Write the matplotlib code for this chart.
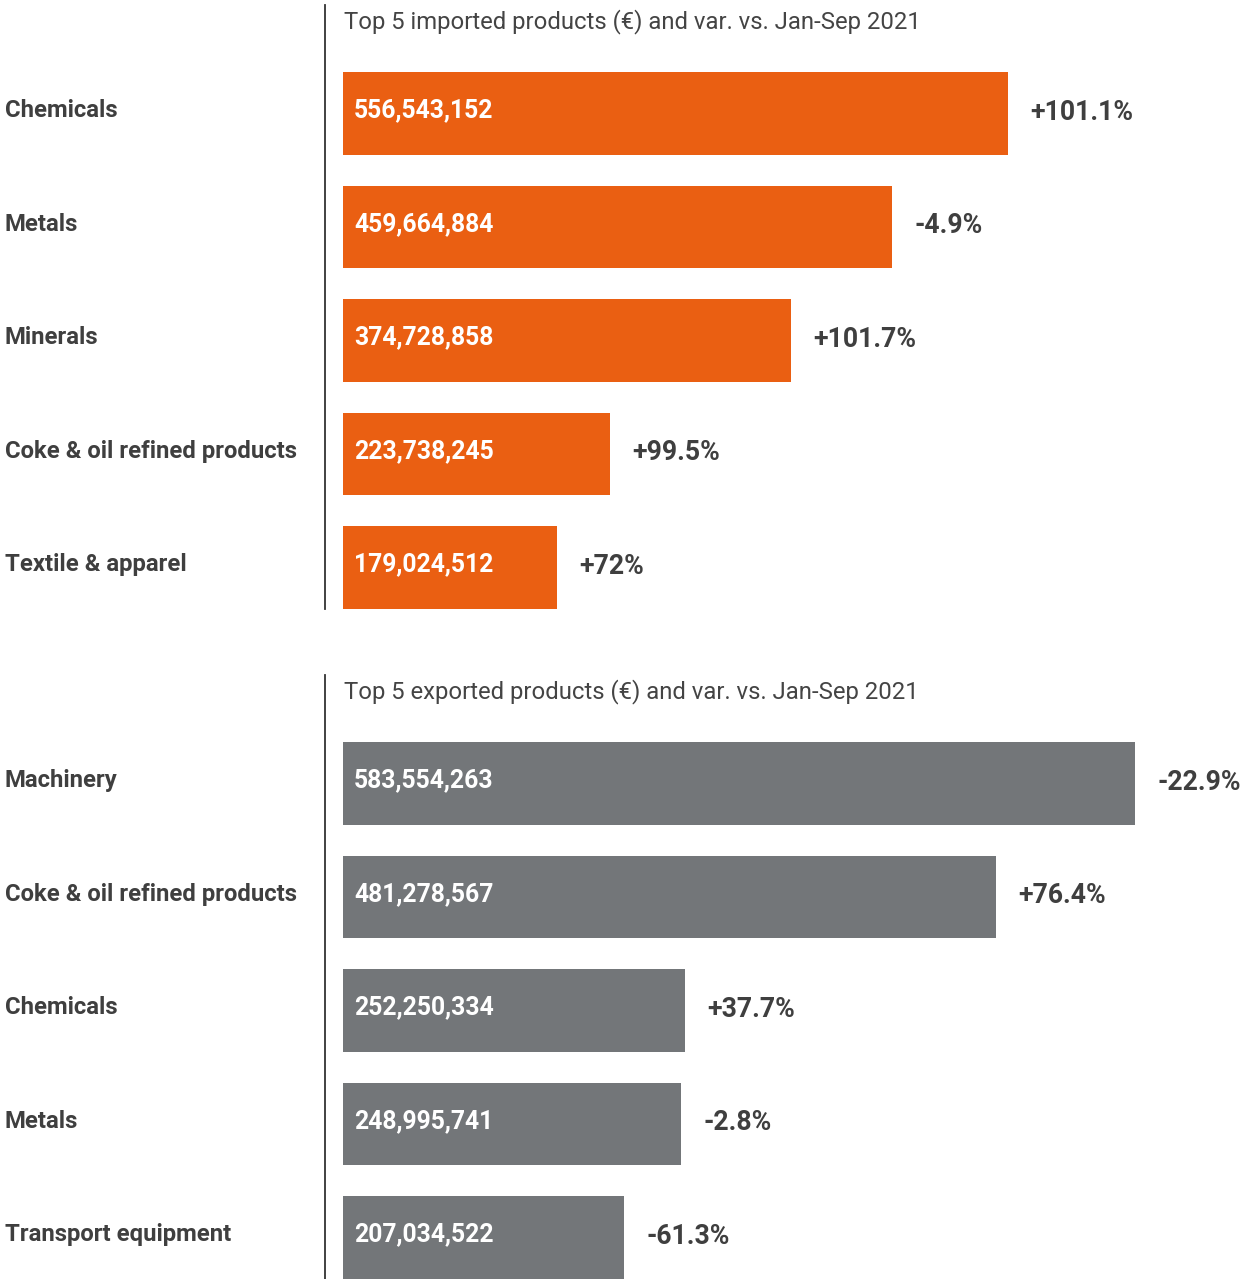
import matplotlib.pyplot as plt
from matplotlib.transforms import ScaledTranslation

plt.rcParams['font.family'] = ['Roboto', 'DejaVu Sans']

# importaciones
imp_cats = ['Chemicals', 'Metals', 'Minerals', 'Coke & oil refined products', 'Textile & apparel']
imp_vals = [556543152, 459664884, 374728858, 223738245, 179024512]
imp_var = ['+101.1%', '-4.9%', '+101.7%', '+99.5%', '+72%']

# exportaciones
exp_cats = ['Machinery', 'Coke & oil refined products', 'Chemicals', 'Metals', 'Transport equipment']
exp_vals = [583554263, 481278567, 252250334, 248995741, 207034522]
exp_var = ['-22.9%', '+76.4%', '+37.7%', '-2.8%', '-61.3%']

W, H = 1244, 1279
NARANJA = '#EA5F12'
GRIS = '#737679'
TXT = '#3f3f3f'

fig = plt.figure(figsize=(W / 100, H / 100), dpi=100)


def panel(top_px, cats, vals, var, color, titulo, px_por_millon):
    left = 343
    ancho = W - left
    alto = 604
    ax = fig.add_axes([left / W, 1 - (top_px + alto) / H, ancho / W, alto / H])
    y = list(range(len(cats)))
    ax.barh(y, [v / 1e6 for v in vals], height=0.731, color=color)
    ax.set_xlim(0, ancho / px_por_millon)
    ax.set_ylim(4.3656, -0.956)
    for s in ['top', 'right', 'bottom']:
        ax.spines[s].set_visible(False)
    ax.spines['left'].set_position(('outward', 13))
    ax.spines['left'].set_color('#333333')
    ax.spines['left'].set_linewidth(1.3)
    ax.set_xticks([])
    ax.set_yticks([])
    desplaza = ax.transData + ScaledTranslation(11 / 100, 3 / 100, fig.dpi_scale_trans)
    for i, (c, v, p) in enumerate(zip(cats, vals, var)):
        ax.text(0, i, f'{v:,}', color='white', fontsize=17.8, fontweight='bold',
                va='center', ha='left', transform=desplaza)
        ax.annotate(p, (v / 1e6, i), xytext=(16, 1), textcoords='offset points',
                    color=TXT, fontsize=19.2, fontweight='bold', va='center', ha='left')
        ax.annotate(c, (0, i), xycoords=('figure fraction', 'data'),
                    xytext=(3.5, 2), textcoords='offset points',
                    color=TXT, fontsize=17.2, fontweight='bold', va='center', ha='left')
    fig.text(344 / W, 1 - (top_px + 17) / H, titulo, color='#444444', fontsize=17.2,
             va='center', ha='left')
    return ax


panel(5, imp_cats, imp_vals, imp_var, NARANJA,
      'Top 5 imported products (€) and var. vs. Jan-Sep 2021', 1.195)
panel(675, exp_cats, exp_vals, exp_var, GRIS,
      'Top 5 exported products (€) and var. vs. Jan-Sep 2021', 1.357)

fig.savefig('out.png', dpi=100)
